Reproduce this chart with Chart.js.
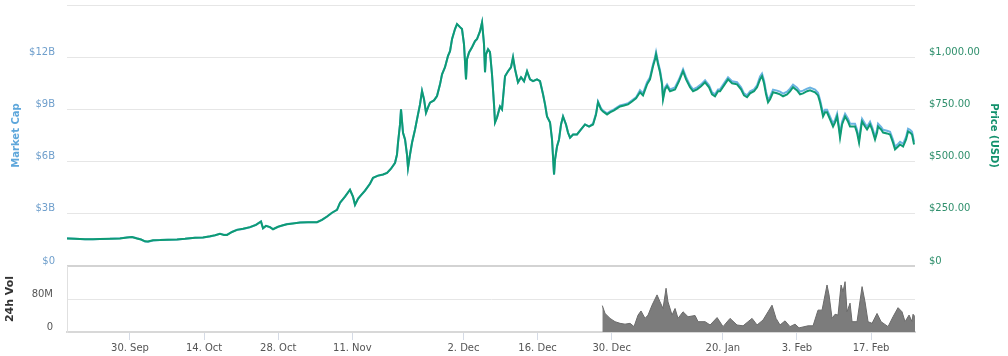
<!DOCTYPE html>
<html><head><meta charset="utf-8">
<script src="https://cdn.jsdelivr.net/npm/chart.js@4.4.1/dist/chart.umd.min.js"></script>
<style>
html,body{margin:0;padding:0;background:#fff;overflow:hidden}
#wrap{position:relative;width:1008px;height:356px}
#c1{position:absolute;left:0;top:0}
#c2{position:absolute;left:0;top:260px}
</style></head><body>
<div id="wrap"><canvas id="c1" width="1008" height="272"></canvas><canvas id="c2" width="1008" height="96"></canvas></div>
<script>
// x values: days relative to 30 Sep 2013
const days = [
-11.90,-10.39,-8.50,-6.99,-5.67,-3.78,-1.89,-0.57,0.38,1.32,
2.08,2.83,3.40,4.35,5.67,7.18,8.88,10.39,12.28,13.79,
15.11,16.06,17.00,17.76,18.33,19.27,20.22,21.35,22.67,23.81,
24.75,25.13,25.69,26.45,27.02,27.96,28.91,29.66,30.80,32.12,
33.63,35.33,36.27,37.22,38.16,39.11,
39.68,40.62,41.56,42.13,42.51,43.08,43.45,44.40,45.34,45.91,
46.85,47.80,48.56,49.31,50.07,50.44,50.63,51.01,51.20,51.58,
51.96,52.33,52.52,52.90,53.28,53.85,54.22,54.79,55.17,55.55,
55.92,56.30,56.68,57.43,58.00,58.57,58.95,59.51,60.08,60.46,
60.84,61.40,61.78,62.35,62.72,63.10,63.48,63.67,64.05,64.62,
65.18,65.56,66.13,66.51,66.88,67.07,67.26,67.64,68.01,68.39,
68.77,68.96,69.34,69.90,70.28,70.85,71.42,71.98,72.36,72.74,
73.30,73.87,74.44,75.01,75.57,76.14,76.89,77.46,78.03,78.41,
78.78,79.35,79.73,80.11,80.30,80.67,81.05,81.43,81.81,82.37,
82.75,83.13,83.70,84.45,85.21,85.96,86.72,87.48,88.04,88.42,
88.99,89.36,90.12,90.69,91.44,92.01,92.58,93.33,94.09,94.84,
95.60,96.35,96.92,97.68,98.24,98.81,99.19,99.38,99.76,100.13,
100.51,100.70,101.08,101.46,102.02,102.97,103.72,104.48,105.05,105.80,
106.37,107.13,107.88,108.64,109.39,109.96,110.52,111.09,111.47,112.22,
112.98,113.74,114.68,115.44,116.00,116.57,117.14,117.89,118.46,119.03,
119.40,119.78,120.16,120.54,120.92,121.48,122.24,122.80,123.37,124.13,
124.69,125.26,126.02,126.58,127.15,127.91,128.47,129.42,129.98,130.36,
130.74,130.93,131.31,131.68,132.25,132.82,133.20,133.58,133.95,134.14,
134.52,135.09,135.65,136.03,136.60,136.97,137.35,137.73,138.11,138.30,
138.86,139.24,139.81,140.19,140.75,141.13,141.32,141.89,142.27,143.02,
143.59,144.15,144.53,145.10,145.48,146.05,146.61,146.99,147.37,147.74,
148.12];

const priceUsd = [
132,131,128,128,129,130,132,137,139,132,
127,118,117,123,124,126,127,130,135,137,
142,147,154,149,149,163,173,178,186,197,
213,181,192,186,176,188,195,200,204,208,
209,210,221,237,255,269,
303,332,365,332,293,322,333,361,394,422,
433,438,446,466,494,534,590,678,750,638,
606,534,470,534,590,654,702,774,838,798,
734,760,782,793,814,870,918,952,1006,1029,
1087,1135,1159,1144,1135,1062,894,990,1023,1048,
1077,1087,1125,1167,1062,928,1014,1038,1024,918,
774,688,712,764,750,909,933,952,1000,942,
880,904,885,933,894,885,894,885,822,774,
716,688,606,438,510,572,606,678,716,678,
639,615,630,630,654,678,668,678,726,784,
750,740,726,736,745,755,764,769,774,788,
803,832,817,870,894,957,990,1014,966,928,
870,798,846,861,837,846,885,933,894,856,
837,846,861,880,856,822,813,837,837,865,
894,875,870,846,817,808,827,837,856,894,
909,875,822,784,798,832,827,822,813,822,
837,856,841,822,827,837,841,832,817,784,
740,716,736,736,702,668,688,716,654,615,
678,716,692,668,668,668,639,591,663,692,
668,654,678,654,606,639,668,654,639,635,
630,591,558,572,582,572,606,644,639,630,
582];

const marketCapB = [
1.59,1.57,1.54,1.54,1.55,1.56,1.59,1.64,1.67,1.59,
1.53,1.41,1.40,1.47,1.49,1.51,1.53,1.56,1.62,1.64,
1.70,1.76,1.85,1.79,1.79,1.96,2.08,2.13,2.23,2.37,
2.56,2.17,2.31,2.23,2.12,2.25,2.34,2.41,2.45,2.50,
2.51,2.52,2.65,2.84,3.06,3.23,
3.63,3.98,4.38,3.98,3.52,3.87,4.00,4.33,4.73,5.06,
5.19,5.25,5.35,5.60,5.92,6.40,7.08,8.13,9.00,7.66,
7.27,6.40,5.64,6.40,7.08,7.85,8.42,9.29,10.06,9.58,
8.81,9.12,9.39,9.52,9.77,10.44,11.02,11.42,12.08,12.35,
13.04,13.62,13.90,13.73,13.62,12.75,10.73,11.88,12.27,12.58,
12.92,13.04,13.50,14.00,12.75,11.13,12.17,12.46,12.29,11.02,
9.29,8.25,8.54,9.17,9.00,10.90,11.19,11.42,12.00,11.31,
10.56,10.85,10.62,11.19,10.73,10.62,10.73,10.62,9.87,9.29,
8.60,8.25,7.27,5.25,6.12,6.87,7.27,8.13,8.60,8.13,
7.67,7.38,7.56,7.56,7.85,8.13,8.02,8.19,8.77,9.46,
9.06,8.94,8.77,8.88,9.00,9.12,9.23,9.29,9.35,9.52,
9.69,10.10,9.92,10.56,10.85,11.60,12.00,12.29,11.71,11.25,
10.56,9.69,10.27,10.44,10.15,10.27,10.73,11.31,10.85,10.38,
10.15,10.27,10.44,10.67,10.38,9.98,9.87,10.15,10.15,10.50,
10.85,10.62,10.56,10.27,9.92,9.81,10.04,10.15,10.38,10.89,
11.06,10.66,10.02,9.56,9.73,10.14,10.08,10.02,9.91,10.02,
10.19,10.42,10.25,10.02,10.08,10.19,10.25,10.14,9.96,9.56,
9.04,8.75,8.98,8.98,8.58,8.18,8.41,8.75,8.00,7.54,
8.29,8.75,8.46,8.18,8.18,8.18,7.83,7.25,8.12,8.46,
8.18,8.00,8.29,8.00,7.42,7.83,8.18,8.00,7.83,7.77,
7.71,7.25,6.85,7.02,7.14,7.02,7.42,7.89,7.83,7.71,
7.14];

const volDays = [
89.23,89.74,90.69,91.63,92.58,93.52,94.47,95.22,95.98,96.54,
97.30,97.87,98.62,99.57,100.13,100.70,101.27,101.64,102.40,102.97,
103.53,104.48,105.42,106.75,107.32,108.64,109.59,110.91,112.04,113.36,
114.68,115.82,117.52,118.46,119.59,120.54,121.29,122.05,122.80,123.75,
124.69,125.64,126.39,128.09,129.04,129.98,130.74,131.68,132.06,132.63,
133.20,133.76,134.33,134.71,135.09,135.46,136.03,136.41,137.35,138.30,
138.86,139.43,140.19,141.13,141.89,143.21,144.15,145.10,145.85,146.42,
147.18,147.74,147.93,148.30];
const volM = [
64,45,33,25,21,19,21,13,41,51,
33,41,65,90,73,57,106,73,41,57,
33,49,37,40,25,25,17,35,13,33,
17,15,33,17,29,49,65,33,17,27,
13,19,10,15,15,53,53,114,90,33,
43,41,114,98,122,49,70,25,25,110,
73,25,21,45,25,13,37,59,49,25,
41,25,43,37];

const xTickDays = [0,14,28,42,63,77,91,112,126,140];
const xTickLabels = ['30. Sep','14. Oct','28. Oct','11. Nov','2. Dec','16. Dec','30. Dec','20. Jan','3. Feb','17. Feb'];
const capTickValues = [0,3,6,9,12,15];
const capTickLabels = ['$0','$3B','$6B','$9B','$12B',''];
const priceTickValues = [0,250,500,750,1000,1250];
const priceTickLabels = ['$0','$250.00','$500.00','$750.00','$1,000.00',''];
const volTickValues = [0,80,160];
const volTickLabels = ['0','80M',''];

const X_MIN = -11.9, X_MAX = 148.3;
const CLEAR = 'rgba(0,0,0,0)';
Chart.defaults.font.family = "'DejaVu Sans', sans-serif";
Chart.defaults.font.size = 10;

function fixW(w){ return s => { s.width = w; s.paddingTop = 0; s.paddingBottom = 0; }; }
function setTicks(vals){ return s => { s.ticks = vals.map(v => ({value: v})); }; }

new Chart(document.getElementById('c1'), {
  type: 'line',
  data: { datasets: [
    { label: 'Price (USD)', data: days.map((d, i) => ({x: d, y: priceUsd[i]})), yAxisID: 'yPrice',
      borderColor: '#0e9b74', borderWidth: 2, pointRadius: 0, tension: 0, fill: false },
    { label: 'Market Cap', data: days.map((d, i) => ({x: d, y: marketCapB[i]})), yAxisID: 'yCap',
      borderColor: '#6bb3e2', borderWidth: 2, pointRadius: 0, tension: 0, fill: false }
  ]},
  options: {
    responsive: false, animation: false, devicePixelRatio: 1,
    layout: { padding: { top: 5, bottom: 6, left: 0, right: 0 } },
    plugins: { legend: { display: false }, tooltip: { enabled: false } },
    scales: {
      x: { type: 'linear', min: X_MIN, max: X_MAX, display: false },
      yCap: {
        position: 'left', min: 0, max: 15,
        afterBuildTicks: setTicks(capTickValues), afterFit: fixW(67),
        grid: { color: c => (c.tick && c.tick.value === 0) ? '#d3d3d3' : '#e6e6e6',
                lineWidth: c => (c.tick && c.tick.value === 0) ? 2 : 1,
                drawTicks: true, tickLength: 12, tickColor: CLEAR },
        border: { display: false },
        ticks: { padding: 0, color: '#6f9fcc', labelOffset: -5, callback: (v, i) => capTickLabels[i] },
        title: { display: true, text: 'Market Cap', color: '#5ea7db', font: { weight: 'bold', size: 10 }, padding: { top: 10, bottom: 0 } }
      },
      yPrice: {
        position: 'right', min: 0, max: 1250,
        afterBuildTicks: setTicks(priceTickValues), afterFit: fixW(93),
        grid: { drawOnChartArea: false, drawTicks: true, tickLength: 14, tickColor: CLEAR },
        border: { display: false },
        ticks: { padding: 0, color: '#2f8f6c', labelOffset: -5, callback: (v, i) => priceTickLabels[i] },
        title: { display: true, text: 'Price (USD)', color: '#12916c', font: { weight: 'bold', size: 10 }, padding: { top: 8, bottom: 0 } }
      }
    }
  }
});

new Chart(document.getElementById('c2'), {
  type: 'line',
  data: { datasets: [
    { label: '24h Vol', data: volDays.map((d, i) => ({x: d, y: volM[i]})), fill: 'origin',
      backgroundColor: '#7c7c7c', borderColor: '#6a6a6a', borderWidth: 1, pointRadius: 0, tension: 0 }
  ]},
  options: {
    responsive: false, animation: false, devicePixelRatio: 1,
    layout: { padding: { top: 6, bottom: 0, left: 0, right: 93 } },
    plugins: { legend: { display: false }, tooltip: { enabled: false } },
    scales: {
      x: {
        type: 'linear', min: X_MIN, max: X_MAX,
        afterBuildTicks: setTicks(xTickDays),
        afterFit: s => { s.height = 24; s.paddingLeft = 0; s.paddingRight = 0; },
        grid: { drawOnChartArea: false, drawTicks: true, tickLength: 8, tickColor: '#d5dbe6' },
        border: { display: true, color: '#d8d8d8', width: 2 },
        ticks: { padding: 2, color: '#555', maxRotation: 0, autoSkip: false, callback: (v, i) => xTickLabels[i] }
      },
      y: {
        position: 'left', min: 0, max: 160,
        afterBuildTicks: setTicks(volTickValues), afterFit: fixW(67),
        grid: { color: c => (c.tick && c.tick.value === 160) ? CLEAR : '#e6e6e6', drawTicks: true, tickLength: 14, tickColor: CLEAR },
        border: { display: true, color: '#e0e0e0', width: 1 },
        ticks: { padding: 0, color: '#555', labelOffset: -5, callback: (v, i) => volTickLabels[i] },
        title: { display: true, text: '24h Vol', color: '#333', font: { weight: 'bold', size: 11 }, padding: { top: 4, bottom: 0 } }
      }
    }
  }
});
</script>
</body></html>
